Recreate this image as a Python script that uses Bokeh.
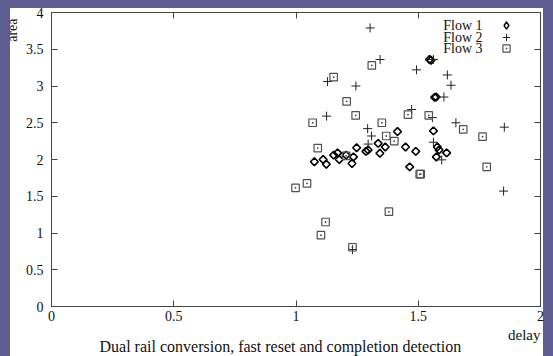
import math
from bokeh.plotting import figure
from bokeh.models import Range1d, LinearAxis, FixedTicker, Label, Legend, LegendItem, Title
from bokeh.embed import file_html
from bokeh.resources import INLINE

# ---- data ----
flow1_x = [1.075, 1.111, 1.124, 1.154, 1.170, 1.177, 1.205, 1.229, 1.235, 1.248, 1.286,
           1.295, 1.336, 1.343, 1.365, 1.415, 1.448, 1.465, 1.490, 1.546, 1.552, 1.567,
           1.573, 1.562, 1.578, 1.585, 1.616, 1.574]
flow1_y = [1.97, 2.00, 1.935, 2.06, 2.09, 2.00, 2.06, 1.945, 2.035, 2.16, 2.11,
           2.13, 2.22, 2.085, 2.17, 2.38, 2.17, 1.90, 2.11, 3.36, 3.35, 2.845,
           2.85, 2.39, 2.17, 2.13, 2.09, 2.035]

flow2_x = [1.303, 1.344, 1.129, 1.245, 1.125, 1.493, 1.619, 1.634, 1.605, 1.473, 1.558,
           1.654, 1.852, 1.293, 1.309, 1.295, 1.562, 1.596, 1.849, 1.231, 1.562]
flow2_y = [3.79, 3.36, 3.06, 3.00, 2.59, 3.22, 3.15, 3.01, 2.85, 2.68, 2.57,
           2.50, 2.44, 2.42, 2.32, 2.21, 2.235, 1.995, 1.57, 0.775, 3.36]

flow3_x = [1.310, 1.154, 1.207, 1.244, 1.068, 1.351, 1.458, 1.543, 1.684, 1.763, 1.369,
           1.402, 1.089, 1.506, 1.780, 0.998, 1.045, 1.121, 1.102, 1.231, 1.380, 1.205,
           1.510]
flow3_y = [3.28, 3.12, 2.79, 2.60, 2.50, 2.50, 2.61, 2.60, 2.41, 2.31, 2.32,
           2.25, 2.155, 1.80, 1.90, 1.615, 1.675, 1.15, 0.97, 0.806, 1.29, 2.05,
           1.80]

series_names = ["Flow 1", "Flow 2", "Flow 3"]
x_ticks = [0, 0.5, 1, 1.5, 2]
x_tick_labels = ["0", "0.5", "1", "1.5", "2"]
y_ticks = [0, 0.5, 1, 1.5, 2, 2.5, 3, 3.5, 4]
y_tick_labels = ["0", "0.5", "1", "1.5", "2", "2.5", "3", "3.5", "4"]
x_label = "delay"
y_label = "area"
title_text = "Dual rail conversion, fast reset and completion detection"

FONT = "Liberation Serif"
FRAME = "#444444"
BG_BLUE = "#5d5d92"
TEXT = "#111111"

p = figure(output_backend="svg", toolbar_location=None,
           width=553, height=356,
           x_range=Range1d(0, 2), y_range=Range1d(0, 4),
           min_border_left=50, min_border_right=13, min_border_top=12, min_border_bottom=50,
           x_axis_location=None, y_axis_location=None)
p.background_fill_color = "white"
p.border_fill_color = None
p.outline_line_color = FRAME
p.outline_line_width = 1
p.grid.visible = False


def style_axis(ax, ticks, labels, size):
    ax.ticker = FixedTicker(ticks=ticks)
    ax.major_label_overrides = {t: l for t, l in zip(ticks, labels)}
    ax.major_tick_in = 6
    ax.major_tick_out = 0
    ax.minor_tick_in = 0
    ax.minor_tick_out = 0
    ax.axis_line_color = FRAME
    ax.major_tick_line_color = FRAME
    ax.major_label_text_font = FONT
    ax.major_label_text_color = TEXT
    ax.major_label_text_font_size = size
    ax.major_label_standoff = 5 if size != "0px" else 0


bottom = LinearAxis()
style_axis(bottom, x_ticks, x_tick_labels, "14px")
bottom.major_label_standoff = 4
left = LinearAxis()
style_axis(left, y_ticks, y_tick_labels, "14px")
left.major_label_standoff = 8
top = LinearAxis()
style_axis(top, x_ticks, x_tick_labels, "0px")
right = LinearAxis()
style_axis(right, y_ticks, y_tick_labels, "0px")
p.add_layout(bottom, "below")
p.add_layout(left, "left")
p.add_layout(top, "above")
p.add_layout(right, "right")

r1 = p.scatter(flow1_x, flow1_y, marker="square", angle=math.pi / 4, size=5.5,
               fill_color=None, line_color="#000000", line_width=1.6)
r2 = p.scatter(flow2_x, flow2_y, marker="cross", size=9,
               line_color="#222222", line_width=1)
r3 = p.scatter(flow3_x, flow3_y, marker="square_dot", size=7.5,
               fill_color=None, line_color="#505050", line_width=1.2)
# legend key for Flow 1 (legend keys ignore the marker angle, so use a diamond key)
key1 = p.scatter([float("nan")], [float("nan")], marker="diamond",
                 fill_color=None, line_color="#000000", line_width=1.4)

# one small legend per series so the keys can be spaced like the reference
legend_rows = [272, 260, 249]
for name, rend, ly in zip(series_names, (key1, r2, r3), legend_rows):
    lg = Legend(items=[LegendItem(label=" ", renderers=[rend])],
                location=(446, ly), glyph_width=18, glyph_height=18,
                label_height=18, label_width=0, label_standoff=0,
                label_text_font_size="4px", padding=0, margin=0, spacing=0,
                border_line_color=None, background_fill_color=None)
    p.add_layout(lg)

for i, name in enumerate(series_names):
    p.add_layout(Label(x=1.763, y=3.823 - i * 0.158, text=name, text_align="right",
                       text_baseline="middle", text_font=FONT, text_font_size="14px",
                       text_color=TEXT))

p.add_layout(Title(text=x_label, align="right", text_font=FONT, text_font_size="15px",
                   text_font_style="normal", text_color=TEXT, standoff=2), "below")
p.add_layout(Title(text=title_text, align="left", text_font=FONT, text_font_size="16px",
                   text_font_style="normal", text_color=TEXT, standoff=-15, offset=48), "below")
p.add_layout(Title(text=y_label, align="right", text_font=FONT, text_font_size="14px",
                   text_font_style="normal", text_color=TEXT, standoff=5, offset=6), "left")

html = file_html(p, INLINE)
css = ("<style>body { background: linear-gradient(#ffffff, #ffffff) 10px 8px / 533px 348px "
       "no-repeat, %s; }</style></head>" % BG_BLUE)
html = html.replace("</head>", css, 1)
open("out.html", "w").write(html)
